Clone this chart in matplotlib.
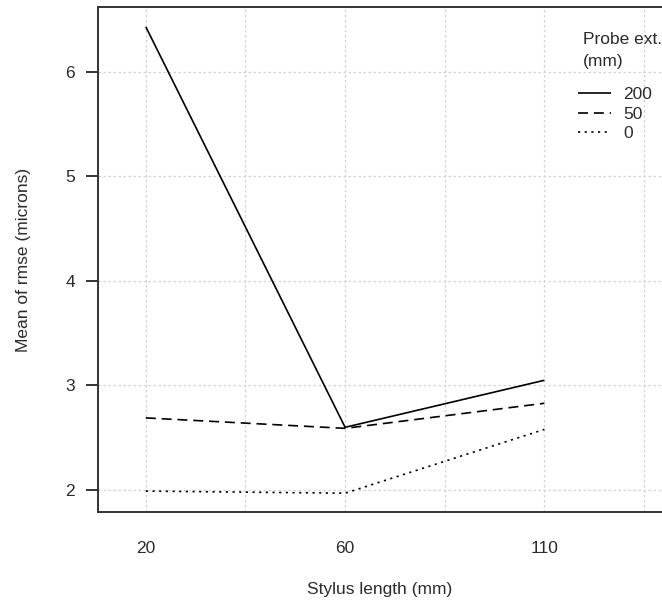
import matplotlib
matplotlib.use("Agg")
import matplotlib.pyplot as plt

# stylus lengths (categorical x) and mean rmse per probe extension
stylus = ["20", "60", "110"]
probe_ext = ["200", "50", "0"]
rmse_200 = [6.43, 2.60, 3.05]
rmse_50 = [2.69, 2.59, 2.83]
rmse_0 = [1.99, 1.97, 2.58]

plt.rcParams["font.family"] = ["Liberation Sans", "DejaVu Sans"]
txt = "#2b2b2b"

fig = plt.figure(figsize=(6.62, 6.07), dpi=100)
ax = fig.add_axes([98 / 662, 95 / 607, 564 / 662, 505 / 607])

x = [1, 2, 3]
styles = [(0, ()), (0, (6, 3.5)), (0, (1.3, 2.7))]
for vals, lab, ls in zip([rmse_200, rmse_50, rmse_0], probe_ext, styles):
    ax.plot(x, vals, color="black", lw=1.2, linestyle=ls, label=lab, zorder=3)

ax.set_xlim(0.76, 3.59)
ax.set_ylim(1.79, 6.62)
ax.set_xticks(x)
ax.set_xticklabels(stylus)
ax.set_xticks([1.5, 2.5, 3.5], minor=True)
ax.set_yticks([2, 3, 4, 5, 6])

ax.grid(True, which="both", color="#d2d2d2", linestyle=(0, (2, 2)), lw=0.9)
ax.set_axisbelow(True)

for s in ["left", "bottom", "top"]:
    ax.spines[s].set_color("#333333")
    ax.spines[s].set_linewidth(1.4)
ax.spines["right"].set_visible(False)

ax.tick_params(axis="x", which="both", length=0, pad=21, labelsize=12.5, colors=txt)
ax.tick_params(axis="y", length=8.6, width=1.4, pad=8, labelsize=12.5, colors=txt)
ax.tick_params(axis="y", color="#333333")

ax.set_xlabel("Stylus length (mm)", fontsize=12.5, color=txt)
ax.set_ylabel("Mean of rmse (microns)", fontsize=12.5, color=txt)
ax.xaxis.set_label_coords(0.5, -0.138)
ax.yaxis.set_label_coords(-0.118, 0.5)

# legend title drawn separately for R-like spacing
fig.text(583 / 662, 1 - 50.5 / 607, "Probe ext.\n(mm)", ha="left", va="center",
         fontsize=12.5, color=txt, linespacing=1.65)
leg = ax.legend(loc="upper left",
                bbox_to_anchor=(578 / 662, 1 - 87 / 607), bbox_transform=fig.transFigure,
                frameon=False, borderpad=0, borderaxespad=0, handlelength=1.9,
                handletextpad=0.7, labelspacing=0.25, fontsize=12.5)
for t in leg.get_texts():
    t.set_color(txt)

fig.savefig("out.png", dpi=100, facecolor="white")
